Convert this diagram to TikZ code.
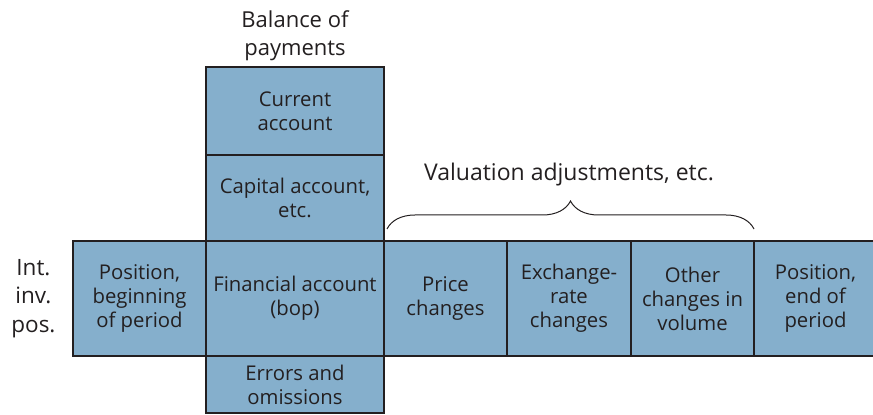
\documentclass[tikz,border=0pt]{standalone}
\usepackage{fontspec}
\setmainfont{Open Sans}
\usepackage{tikz}
\usetikzlibrary{positioning,decorations.pathreplacing}
\definecolor{bopblue}{RGB}{133,175,204}
\definecolor{bopline}{RGB}{35,31,32}
\tikzset{
    account/.style={
                draw=bopline,
                line width=2.6pt,
                fill=bopblue,
                text=bopline,
                align=center,
                outer sep=0pt,
                inner sep=2pt,
                font=\fontsize{20.3}{24}\selectfont
            },
        rowbox/.style={
                account,
                minimum height=115pt
            },
        heading/.style={
                text=bopline,
                align=center,
                font=\fontsize{22}{27.5}\selectfont
            },
        bracket/.style={
                draw=bopline,
                line width=1pt,
                decorate,
                decoration={brace,amplitude=28pt}
            },
}

\begin{document}
\begin{tikzpicture}[x=1pt,y=1pt]
  \useasboundingbox (0,0) rectangle (873,415);
  % Row of the international investment position
  \node[rowbox,minimum width=178pt] (fin) at (295,116.5) {Financial account\\(bop)};
  \node[rowbox,minimum width=133pt,left=0pt of fin] (begin) {Position,\\beginning\\of period};
  \node[rowbox,minimum width=123pt,right=0pt of fin] (price) {Price\\changes};
  \node[rowbox,minimum width=124pt,right=0pt of price] (exch) {Exchange-\\rate\\changes};
  \node[rowbox,minimum width=123pt,right=0pt of exch] (other) {Other\\changes in\\volume};
  \node[rowbox,minimum width=123pt,right=0pt of other] (end) {Position,\\end of\\period};
  % Balance of payments column
  \node[account,minimum width=178pt,minimum height=86pt,above=0pt of fin] (capital) {Capital account,\\etc.};
  \node[account,minimum width=178pt,minimum height=88pt,above=0pt of capital] (current) {Current\\account};
  \node[account,minimum width=178pt,minimum height=57pt,below=0pt of fin] (errors) {Errors and\\omissions};
  % Labels
  \node[heading,above=3pt of current] (bop) {Balance of\\payments};
  \node[heading,left=14pt of begin,font=\fontsize{22.5}{28.5}\selectfont] (iip) {Int.\\inv.\\pos.};
  \coordinate (bl) at ([xshift=3pt,yshift=12pt]price.north west);
  \coordinate (br) at ([yshift=12pt]other.north east);
  \draw[bracket] (bl) -- (br);
  \node[heading,font=\fontsize{23}{27}\selectfont,above=51pt of exch] (val) {Valuation adjustments, etc.};
\end{tikzpicture}
\end{document}
